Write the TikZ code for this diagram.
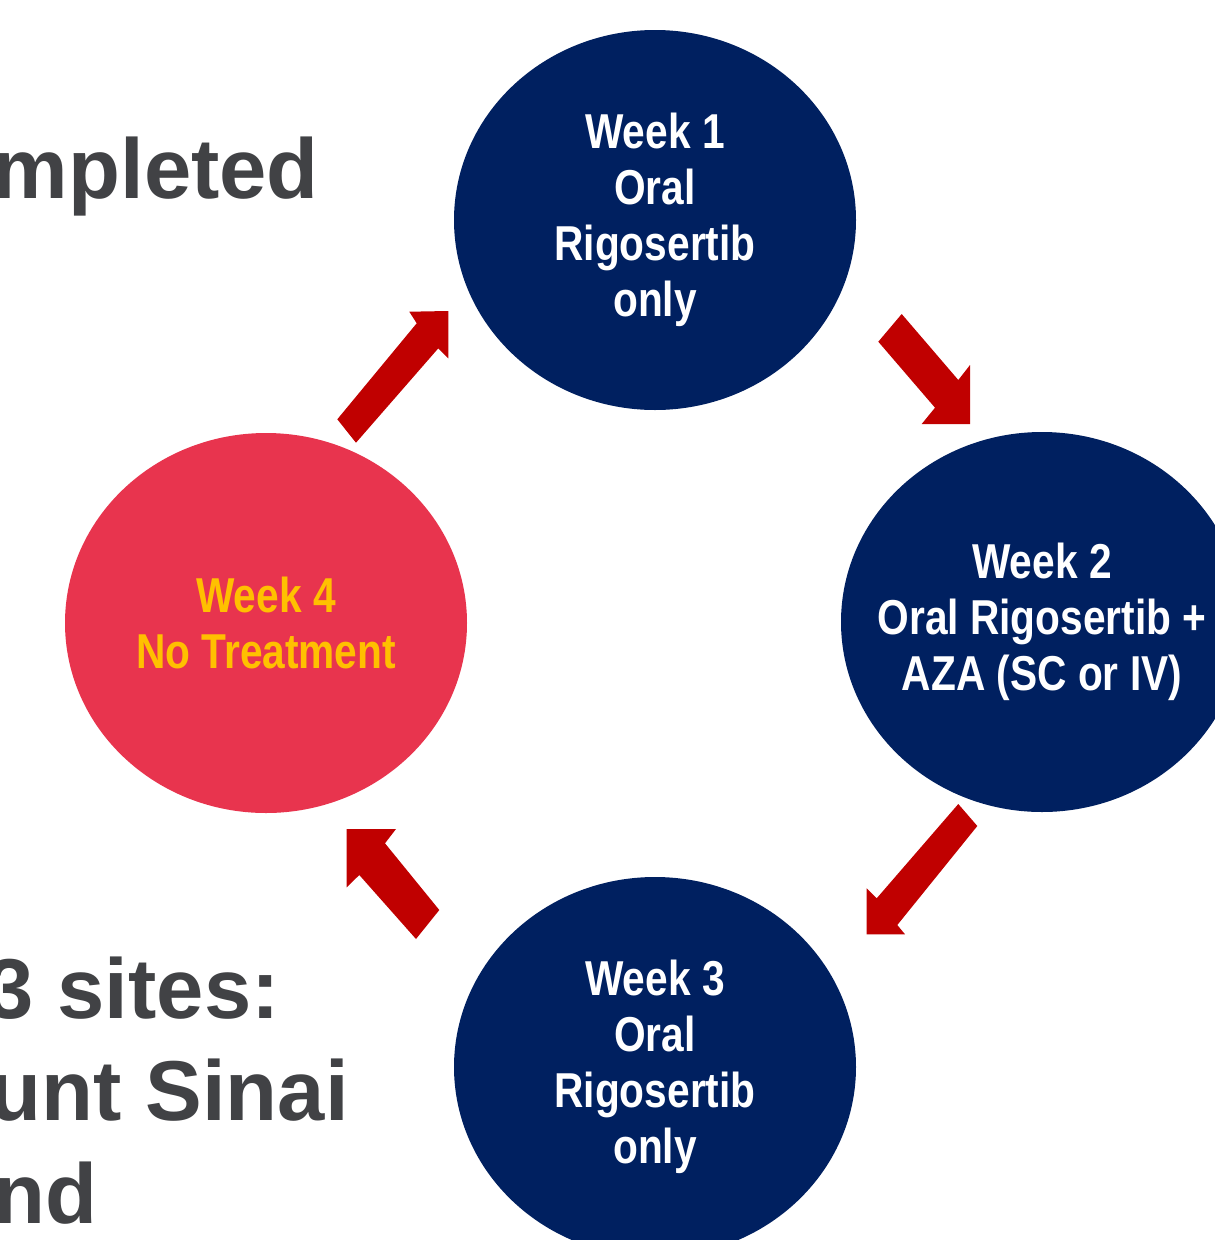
\documentclass[tikz,border=0pt]{standalone}
\usepackage{fontspec}
\setmainfont{Liberation Sans}
\newfontfamily\narrowsans{Liberation Sans}[FakeStretch=0.83]
\usetikzlibrary{shapes.geometric}
\definecolor{navy}{RGB}{0,32,96}
\definecolor{rosered}{RGB}{232,52,78}
\definecolor{gold}{RGB}{255,192,0}
\definecolor{arrowred}{RGB}{192,0,0}
\definecolor{slate}{RGB}{65,66,69}
\begin{document}
\begin{tikzpicture}[x=1pt,y=-1pt,
  phase/.style={ellipse, minimum width=402pt, minimum height=380pt, inner sep=0pt},
  navyphase/.style={phase, fill=navy},
  restphase/.style={phase, fill=rosered},
  phasetext/.style={align=center, inner sep=0pt,
    font=\narrowsans\bfseries\fontsize{49}{56}\selectfont},
  blockarrow/.style={fill=arrowred},
  bigtext/.style={text=slate, font=\bfseries\fontsize{85}{102}\selectfont, inner sep=0pt, anchor=base east}]
\useasboundingbox (0,0) rectangle (1215,1240);
\clip (0,0) rectangle (1215,1240);
\fill[white] (0,0) rectangle (1215,1240);

% phases
\node[navyphase] (w1) at (655,220) {};
\node[navyphase] (w2) at (1042,622) {};
\node[navyphase] (w3) at (655,1067) {};
\node[restphase] (w4) at (266,623) {};
\node[phasetext, text=white] (l1) at (w1) {Week 1\\Oral\\Rigosertib\\only};
\node[phasetext, text=white] (l2) at (w2) {Week 2\\Oral Rigosertib +\\AZA (SC or IV)};
\node[phasetext, text=white] (l3) at (w3) {Week 3\\Oral\\Rigosertib\\only};
\node[phasetext, text=gold] (l4) at (w4) {Week 4\\No Treatment};

% left-hand text (cut off)
\node[bigtext] (t1) at (319,198) {mpleted};
\node[bigtext] (t2) at (280,1018) {3 sites:};
\node[bigtext] (t3) at (349,1120) {unt Sinai};
\node[bigtext] (t4) at (98,1223) {nd};

% arrow 1: week 4 -> week 1
\coordinate (a1ta) at (337.3,419.3);
\coordinate (a1ia) at (416.7,323.3);
\coordinate (a1ha) at (409.3,311.7);
\coordinate (a1p)  at (448.3,311);
\coordinate (a1hb) at (448.3,358.3);
\coordinate (a1ib) at (438.3,348.3);
\coordinate (a1tb) at (356,442.7);
\fill[blockarrow] (a1ta) -- (a1ia) -- (a1ha) -- (a1p) -- (a1hb) -- (a1ib) -- (a1tb) -- cycle;

% arrow 2: week 1 -> week 2
\coordinate (a2ta) at (901.7,314);
\coordinate (a2ia) at (958.3,380);
\coordinate (a2ha) at (970,365);
\coordinate (a2p)  at (970,424);
\coordinate (a2hb) at (921.7,424);
\coordinate (a2ib) at (935,407.7);
\coordinate (a2tb) at (878.3,341.7);
\fill[blockarrow] (a2ta) -- (a2ia) -- (a2ha) -- (a2p) -- (a2hb) -- (a2ib) -- (a2tb) -- cycle;

% arrow 3: week 2 -> week 3
\coordinate (a3ta) at (958.3,804);
\coordinate (a3ia) at (876.7,898.3);
\coordinate (a3ha) at (866.7,888.3);
\coordinate (a3p)  at (866.7,934.3);
\coordinate (a3hb) at (905,934.3);
\coordinate (a3ib) at (897.3,925);
\coordinate (a3tb) at (977.3,826);
\fill[blockarrow] (a3ta) -- (a3ia) -- (a3ha) -- (a3p) -- (a3hb) -- (a3ib) -- (a3tb) -- cycle;

% arrow 4: week 3 -> week 4
\coordinate (a4ta) at (439.3,910);
\coordinate (a4ia) at (385,843.3);
\coordinate (a4ha) at (396,829);
\coordinate (a4p)  at (346.7,829);
\coordinate (a4hb) at (346.7,887.3);
\coordinate (a4ib) at (359.3,875);
\coordinate (a4tb) at (416,939);
\fill[blockarrow] (a4ta) -- (a4ia) -- (a4ha) -- (a4p) -- (a4hb) -- (a4ib) -- (a4tb) -- cycle;
\end{tikzpicture}
\end{document}
